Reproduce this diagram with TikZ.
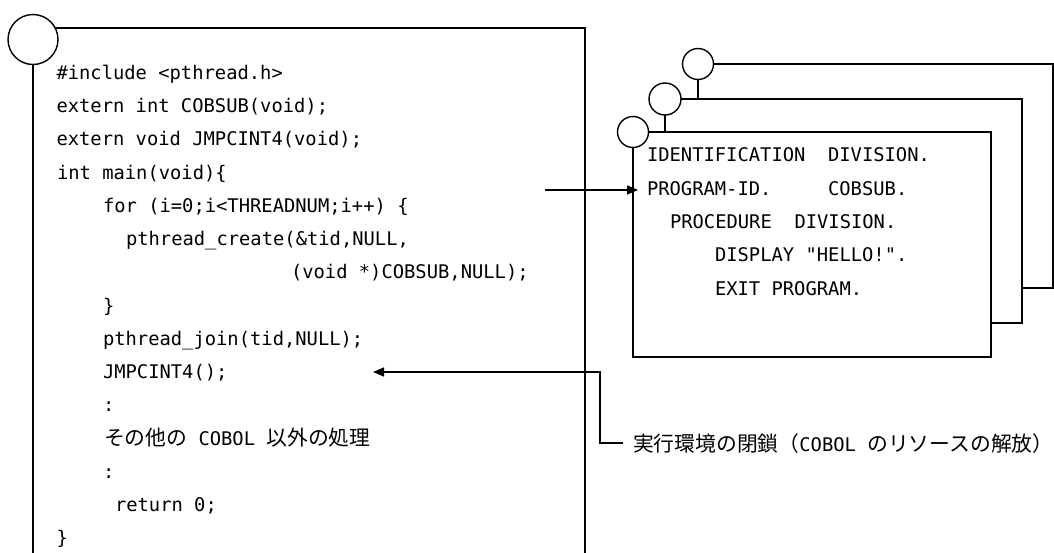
\documentclass[tikz,border=0pt]{standalone}
\usepackage{fontspec}
\setmonofont{DejaVu Sans Mono}
\newfontfamily\jpfont{Noto Sans CJK JP}
\newcommand{\jptext}[1]{{\jpfont\fontsize{20.8}{22}\selectfont #1}}
\usetikzlibrary{arrows.meta}
\begin{document}
\begin{tikzpicture}[x=1pt,y=-1pt,line width=1.4pt,
  code/.style={anchor=base west,inner sep=0pt,outer sep=0pt,font=\ttfamily\fontsize{18.8}{20}\selectfont},
  ring/.style={draw,circle,fill=white,inner sep=0pt,outer sep=0pt},
  page/.style={draw,fill=white,rectangle,inner sep=0pt,outer sep=0pt,anchor=north west},
  tip/.style={-{Triangle[length=11pt,width=9pt]}}]
\useasboundingbox (0,0) rectangle (1054,552);
\fill[white] (0,0) rectangle (1054,552);

% main C program frame
\node[ring,minimum size=50pt] (mc) at (33,39.5) {};
\draw (mc.south) -- (33,560);
\draw (55.2,28) -- (585,28) -- (585,560);

\node[code] (c0)  at (56.5,79.3)  {\#include <pthread.h>};
\node[code] (c1)  at (56.5,112.5) {extern int COBSUB(void);};
\node[code] (c2)  at (56.5,145.8) {extern void JMPCINT4(void);};
\node[code] (c3)  at (57,179)     {int main(void)\{};
\node[code] (c4)  at (103,212.3)  {for (i=0;i<THREADNUM;i++) \{};
\node[code] (c5)  at (126,245.5)  {pthread\_create(\&tid,NULL,};
\node[code] (c6)  at (291,278.8)  {(void *)COBSUB,NULL);};
\node[code] (c7)  at (103,312)    {\}};
\node[code] (c8)  at (103,345.3)  {pthread\_join(tid,NULL);};
\node[code] (c9)  at (103,378.5)  {JMPCINT4();};
\node[code] (c10) at (103,411.8)  {:};
\node[code] (c11) at (104,445.3)  {\jptext{その他の}~COBOL~\jptext{以外の処理}};
\node[code] (c12) at (103,478.3)  {:};
\node[code] (c13) at (115,511.5)  {return 0;};
\node[code] (c14) at (56.5,544.8) {\}};

% COBOL program stack (back to front)
\node[page,minimum width=355pt,minimum height=224pt] (back) at (698,64) {};
\node[ring,minimum size=31pt] (backring) at (back.north west) {};
\node[page,minimum width=357pt,minimum height=224pt] (mid) at (665,99) {};
\node[ring,minimum size=32pt] (midring) at (mid.north west) {};
\node[page,minimum width=358pt,minimum height=225pt] (front) at (633,132) {};
\node[ring,minimum size=31pt] (frontring) at (front.north west) {};

\node[code] (b0) at (647,161.8) {IDENTIFICATION~~DIVISION.};
\node[code] (b1) at (647,195)   {PROGRAM-ID.~~~~~COBSUB.};
\node[code] (b2) at (670,228.5) {PROCEDURE~~DIVISION.};
\node[code] (b3) at (715,261.8) {DISPLAY "HELLO!".};
\node[code] (b4) at (715,295.5) {EXIT PROGRAM.};

% call arrow
\coordinate (callstart) at (545,190);
\draw[tip,shorten >=-5pt] (callstart) -- (callstart -| front.west);

% termination label and arrow
\node[code] (lbl) at (633,451) {\jptext{実行環境の閉鎖（}COBOL~\jptext{のリソースの解放）}};
\coordinate (lstart) at (623,443);
\coordinate (elbow) at (600,443);
\coordinate (jmpend) at (373,372);
\draw[tip] (lstart) -- (elbow) |- (jmpend);
\end{tikzpicture}
\end{document}
